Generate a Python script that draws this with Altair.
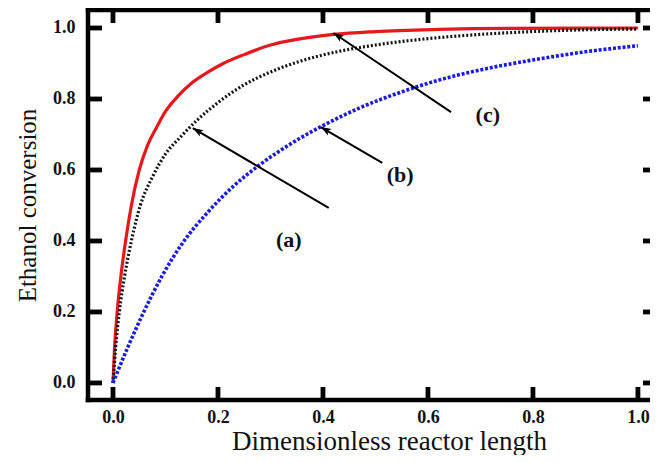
import math
import altair as alt
import pandas as pd

# ---------------- data ----------------
x_c = [0, 0.003, 0.008, 0.015, 0.024, 0.035, 0.05, 0.066, 0.083, 0.1, 0.125, 0.15,
       0.18, 0.21, 0.25, 0.3, 0.35, 0.42, 0.5, 0.62, 0.75, 1.0]
y_c = [0, 0.1, 0.2, 0.3, 0.4, 0.5, 0.6, 0.67, 0.72, 0.765, 0.81, 0.845,
       0.875, 0.9, 0.925, 0.952, 0.968, 0.982, 0.99, 0.996, 0.999, 1.0]

x_a = [0, 0.005, 0.012, 0.022, 0.035, 0.052, 0.075, 0.1, 0.13, 0.16, 0.2, 0.25,
       0.3, 0.36, 0.43, 0.5, 0.6, 0.7, 0.8, 0.9, 1.0]
y_a = [0, 0.1, 0.2, 0.3, 0.4, 0.5, 0.58, 0.645, 0.695, 0.74, 0.79, 0.84,
       0.876, 0.908, 0.934, 0.952, 0.97, 0.982, 0.99, 0.995, 0.997]

x_b = [0, 0.028, 0.057, 0.093, 0.133, 0.18, 0.23, 0.28, 0.34, 0.4, 0.47, 0.55,
       0.62, 0.7, 0.8, 0.9, 1.0]
y_b = [0, 0.1, 0.195, 0.3, 0.395, 0.48, 0.555, 0.615, 0.675, 0.725, 0.775, 0.82,
       0.853, 0.882, 0.91, 0.933, 0.95]

tick_vals = [0.0, 0.2, 0.4, 0.6, 0.8, 1.0]

arrow_labels = ["(a)", "(b)", "(c)"]
arrow_tail_x = [0.411, 0.513, 0.644]
arrow_tail_y = [0.493, 0.62, 0.763]
arrow_head_x = [0.152, 0.396, 0.42]
arrow_head_y = [0.718, 0.721, 0.986]
label_x = [0.335, 0.547, 0.714]
label_y = [0.403, 0.585, 0.755]

# ---------------- layout ----------------
W, H = 562, 390
XDOM = [-0.0476, 1.023]
YDOM = [-0.048, 1.0507]
FONT = "Liberation Serif"
xpx = W / (XDOM[1] - XDOM[0])
ypx = H / (YDOM[1] - YDOM[0])

xs = alt.Scale(domain=XDOM, nice=False, zero=False)
ys = alt.Scale(domain=YDOM, nice=False, zero=False)

df_c = pd.DataFrame({"x": x_c, "y": y_c})
df_a = pd.DataFrame({"x": x_a, "y": y_a})
df_b = pd.DataFrame({"x": x_b, "y": y_b})

x_bottom = alt.Axis(values=tick_vals, grid=False, domain=False, ticks=False, format=".1f",
                    labelFont=FONT, labelFontSize=18, labelFontWeight="bold",
                    labelColor="#111", labelPadding=8,
                    title="Dimensionless reactor length", titleFont=FONT,
                    titleFontSize=27, titleFontWeight="normal", titleColor="#111",
                    titlePadding=2, titleX=301)
y_left = alt.Axis(values=tick_vals, grid=False, domain=False, ticks=False, format=".1f",
                  labelFont=FONT, labelFontSize=18, labelFontWeight="bold",
                  labelColor="#111", labelPadding=13,
                  title="Ethanol conversion", titleFont=FONT,
                  titleFontSize=25, titleFontWeight="normal", titleColor="#111",
                  titlePadding=12)

red = alt.Chart(df_c).mark_line(color="#e3191c", strokeWidth=3.2, interpolate="monotone").encode(
    x=alt.X("x:Q", scale=xs, axis=x_bottom),
    y=alt.Y("y:Q", scale=ys, axis=y_left),
)
black = alt.Chart(df_a).mark_line(color="#151515", strokeWidth=3.2, strokeDash=[2, 2],
                                  interpolate="monotone").encode(
    x=alt.X("x:Q", scale=xs), y=alt.Y("y:Q", scale=ys))
blue = alt.Chart(df_b).mark_line(color="#1c1ce0", strokeWidth=3.6, strokeDash=[3, 1.8],
                                 interpolate="monotone").encode(
    x=alt.X("x:Q", scale=xs), y=alt.Y("y:Q", scale=ys))

# frame: left, top, bottom edges (right edge falls outside the picture)
segs = [(XDOM[0], YDOM[0], XDOM[0], YDOM[1]),
        (XDOM[0], YDOM[1], XDOM[1], YDOM[1]),
        (XDOM[0], YDOM[0], XDOM[1], YDOM[0])]
rows = []
for i, (a, b, c, d) in enumerate(segs):
    rows.append({"id": i, "o": 0, "x": a, "y": b})
    rows.append({"id": i, "o": 1, "x": c, "y": d})
fdf = pd.DataFrame(rows)
frame = alt.Chart(fdf).mark_line(color="black", strokeWidth=4.5, strokeCap="square").encode(
    x=alt.X("x:Q", scale=xs), y=alt.Y("y:Q", scale=ys),
    detail="id:N", order="o:Q")

# inward tick marks as small filled rectangles (data units derived from pixel sizes)
TW = 2.4   # half width in px
rects = []
for v in tick_vals:
    rects.append((v - TW / xpx, v + TW / xpx, YDOM[0], YDOM[0] + 13 / ypx))
    rects.append((v - TW / xpx, v + TW / xpx, YDOM[1] - 13 / ypx, YDOM[1]))
    rects.append((XDOM[0], XDOM[0] + 14 / xpx, v - TW / ypx, v + TW / ypx))
    rects.append((XDOM[1] - 7 / xpx, XDOM[1], v - TW / ypx, v + TW / ypx))
tkdf = pd.DataFrame(rects, columns=["xa", "xb", "ya", "yb"])
ticks = alt.Chart(tkdf).mark_rect(color="black").encode(
    x=alt.X("xa:Q", scale=xs), x2="xb:Q", y=alt.Y("ya:Q", scale=ys), y2="yb:Q")

# arrows
angles = []
for tx, ty, hx, hy in zip(arrow_tail_x, arrow_tail_y, arrow_head_x, arrow_head_y):
    dx = (hx - tx) * xpx
    dy = -(hy - ty) * ypx
    angles.append(math.degrees(math.atan2(dx, -dy)) % 360)
adf = pd.DataFrame({"tx": arrow_tail_x, "ty": arrow_tail_y, "hx": arrow_head_x,
                    "hy": arrow_head_y, "ang": angles, "lab": arrow_labels,
                    "lx": label_x, "ly": label_y})
shafts = alt.Chart(adf).mark_rule(color="black", strokeWidth=2).encode(
    x=alt.X("tx:Q", scale=xs), y=alt.Y("ty:Q", scale=ys),
    x2="hx:Q", y2="hy:Q")
heads = alt.Chart(adf).mark_point(
    shape="M0,0L-0.6,1.7L0,1.3L0.6,1.7Z", filled=True, color="black", opacity=1,
    size=150).encode(
    x=alt.X("hx:Q", scale=xs), y=alt.Y("hy:Q", scale=ys),
    angle=alt.Angle("ang:Q", scale=None))
labels = alt.Chart(adf).mark_text(font=FONT, fontSize=22, fontWeight="bold",
                                  color="#111").encode(
    x=alt.X("lx:Q", scale=xs), y=alt.Y("ly:Q", scale=ys), text="lab:N")

chart = alt.layer(
    red, black, blue, shafts, heads, labels, frame, ticks
).properties(
    width=W, height=H,
    autosize=alt.AutoSizeParams(type="none"),
    padding={"left": 80, "top": 2, "right": 0, "bottom": 55},
    background="white",
).configure_view(stroke=None)

chart.save("out.html", embed_options={"renderer": "svg", "actions": False})
